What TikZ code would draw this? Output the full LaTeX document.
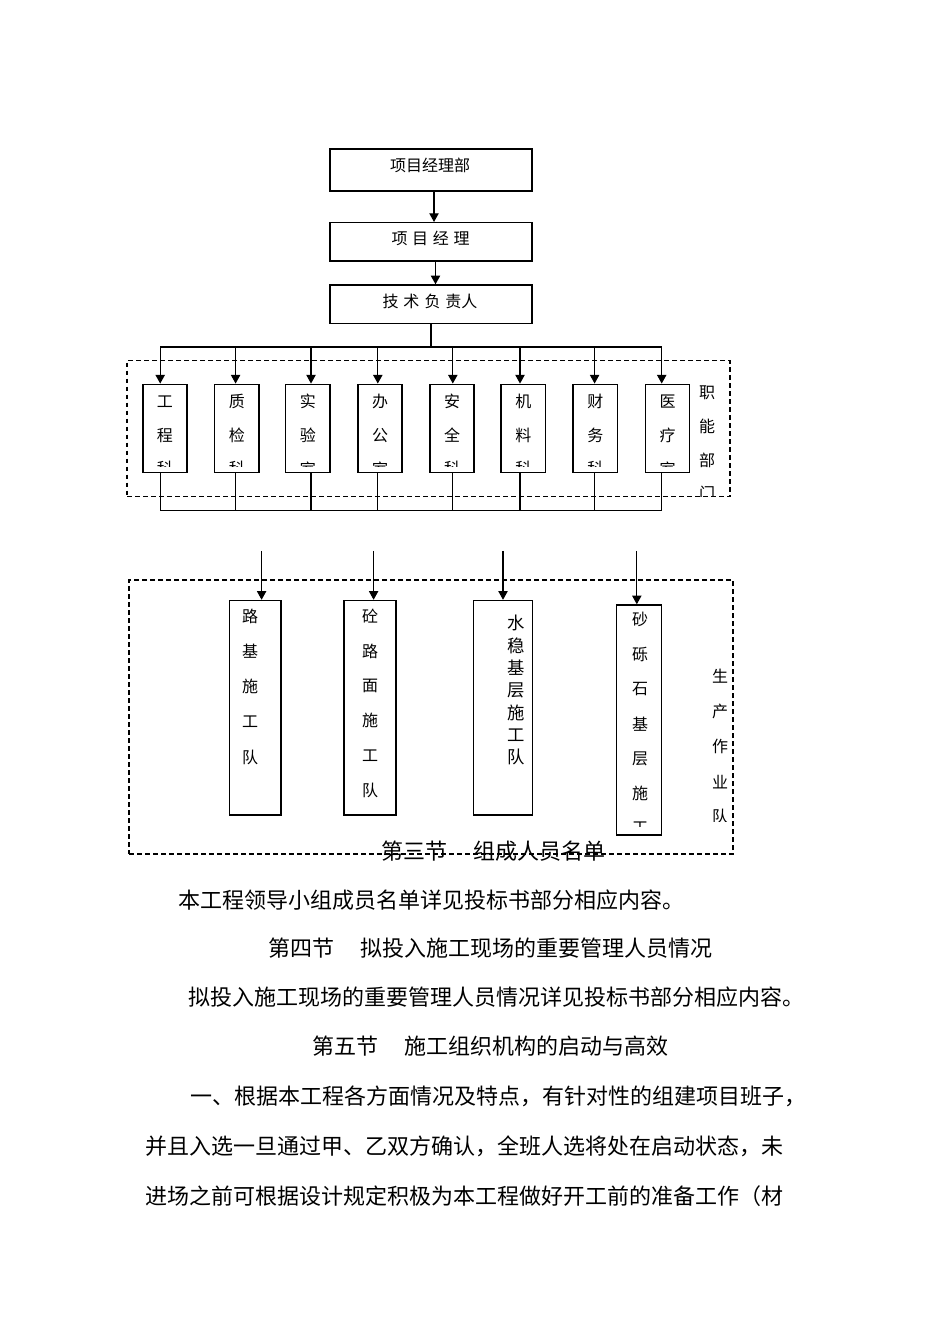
\documentclass[tikz,border=0pt]{standalone}
\usepackage{fontspec}
\newfontfamily\cjk[Kerning=Off]{Noto Sans CJK SC}
\newcommand\pl[1]{\makebox[1em][l]{#1}}
\newcommand\pr[1]{\makebox[1em][r]{#1}}
\usetikzlibrary{arrows.meta,fit}
\tikzset{
  box/.style={draw, line width=1.1pt, inner sep=0pt},
  dbox/.style={draw, dash pattern=on 3.5pt off 2.5pt, line width=0.8pt, inner sep=0pt},
  conn/.style={line width=0.8pt},
  arr/.style={conn, -{Triangle[length=6.5pt,width=7pt]}},
  lbl/.style={font=\cjk\fontsize{12}{14}\selectfont, inner sep=0pt},
  lblb/.style={font=\cjk\fontsize{13}{15}\selectfont, inner sep=0pt},
  body/.style={font=\cjk\fontsize{16.5}{19}\selectfont, inner sep=0pt, anchor=west},
}
\begin{document}
\begin{tikzpicture}[x=0.75pt,y=-0.75pt]
\useasboundingbox (0,0) rectangle (950,1344);

% ---- top chain
\node[box, fit={(330,149)(532,191)}] (pmdept) {};
\node[lbl] (tpmdept) at (430,165) {项目经理部};
\node[box, fit={(330,222.7)(532,261)}] (pm) {};
\node[lbl] (tpm) at (430.5,238.3) {项\hspace{3.5pt}目\hspace{3.5pt}经\hspace{3.5pt}理};
\node[box, fit={(330,285)(532,323.3)}] (tech) {};
\node[lbl] (ttech) at (430,301.7) {技\hspace{3.75pt}术\hspace{3.75pt}负\hspace{3.75pt}责人};

\coordinate (c1) at (434,191);
\draw[arr] (c1) -- (c1 |- pm.north);
\coordinate (c2) at (435.5,261);
\draw[arr] (c2) -- (c2 |- tech.north);
\coordinate (tdown) at (431,347);
\draw[conn] (tdown |- tech.south) -- (tdown);

% ---- functional departments
\node[dbox, fit={(127,360.7)(730,496.7)}] (deptframe) {};
\foreach \i/\xl/\xr/\ax/\a/\b/\c in {
  1/142.8/187/160.2/工/程/科,
  2/214.7/258.9/235.6/质/检/科,
  3/285.7/330/311/实/验/室,
  4/358/402/377.8/办/公/室,
  5/430/474/452.8/安/全/科,
  6/501/545.6/520/机/料/科,
  7/573/617.5/594.6/财/务/科,
  8/645.5/689.5/661.7/医/疗/室}{
  \node[box, fit={(\xl,384.3)(\xr,472.5)}] (f\i) {};
  \coordinate (fa\i) at (\ax,347);
  \draw[arr] (fa\i) -- (fa\i |- f\i.north);
  \coordinate (fb\i) at (\ax,510.7);
  \draw[conn] (fb\i |- f\i.south) -- (fb\i);
  \begin{scope}
    \clip (\xl,384.3) rectangle (\xr,466.5);
    \node[lbl] (f\i-1) at ({(\xl+\xr)/2},401.7) {\a};
    \node[lbl] (f\i-2) at ({(\xl+\xr)/2},435.2) {\b};
    \node[lbl] (f\i-3) at ({(\xl+\xr)/2},468.7) {\c};
  \end{scope}
}
\draw[conn] (fa1) -- (fa8);
\draw[conn] (fb1) -- (fb8);
\begin{scope}
  \clip (690,360) rectangle (740,496);
  \foreach \ch [count=\k from 0] in {职,能,部,门}
    \node[lbl] (zn\k) at (707,393+\k*33.5) {\ch};
\end{scope}

% ---- production teams
\node[dbox, fit={(129,580)(733,854)}] (prodframe) {};
\foreach \n/\xl/\yt/\xr/\yb/\ax in {
  A/229.5/600.5/281/814.8/261.6,
  B/344/600.5/396/814.8/373.6,
  C/473.7/600.5/532.7/814.8/503,
  D/616.7/605/661.7/835/636.8}{
  \node[box, fit={(\xl,\yt)(\xr,\yb)}] (p\n) {};
  \coordinate (pa\n) at (\ax,550.8);
  \draw[arr] (pa\n) -- (pa\n |- p\n.north);
}
\foreach \ch [count=\k from 0] in {路,基,施,工,队}
  \node[lbl] (pA-\k) at (250,616+\k*35.4) {\ch};
\foreach \ch [count=\k from 0] in {砼,路,面,施,工,队}
  \node[lbl] (pB-\k) at (370,616+\k*34.9) {\ch};
\foreach \ch [count=\k from 0] in {水,稳,基,层,施,工,队}
  \node[lblb] (pC-\k) at (516,623+\k*22.4) {\ch};
\begin{scope}
  \clip (616.7,605) rectangle (661.7,826);
  \foreach \ch [count=\k from 0] in {砂,砾,石,基,层,施,工}
    \node[lbl] (pD-\k) at (640,619.6+\k*34.7) {\ch};
\end{scope}
\begin{scope}
  \clip (700,600) rectangle (740,821);
  \foreach \ch [count=\k from 0] in {生,产,作,业,队}
    \node[lbl] (sc\k) at (720,676.6+\k*35) {\ch};
\end{scope}

% ---- body text
\node[body] (h3) at (381,851) {第三节\hspace{1.2em}组成人员名单};
\node[body] (l1) at (178,900) {本工程领导小组成员名单详见投标书部分相应内容\pl{。}};
\node[body] (h4) at (268,948) {第四节\hspace{1.2em}拟投入施工现场的重要管理人员情况};
\node[body] (l2) at (188,997) {拟投入施工现场的重要管理人员情况详见投标书部分相应内容\pl{。}};
\node[body] (h5) at (312,1046.5) {第五节\hspace{1.2em}施工组织机构的启动与高效};
\node[body] (l3) at (190,1096.5) {一\pl{、}根据本工程各方面情况及特点\pl{，}有针对性的组建项目班子\pl{，}};
\node[body] (l4) at (145,1146.5) {并且入选一旦通过甲\pl{、}乙双方确认\pl{，}全班人选将处在启动状态\pl{，}未};
\node[body] (l5) at (145,1196.5) {进场之前可根据设计规定积极为本工程做好开工前的准备工作\pr{（}材};
\end{tikzpicture}
\end{document}
